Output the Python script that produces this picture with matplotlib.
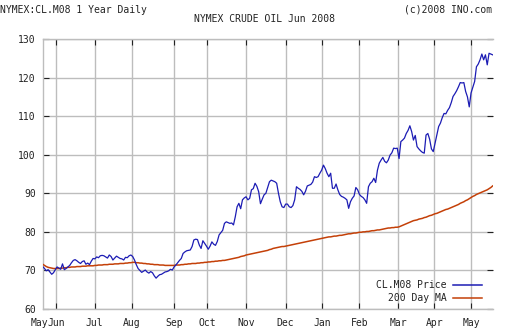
import numpy as np
import matplotlib
matplotlib.use("Agg")
import matplotlib.pyplot as plt
from matplotlib.lines import Line2D

# -----------------------------
# Data (one value per trading day, late May 2007 -> mid May 2008)
# -----------------------------
price = [
    71.0, 70.5, 69.9, 70.2, 69.6, 69.0, 69.4, 70.2, 70.9, 70.6,
    70.3, 71.7, 70.2, 70.5, 70.9, 71.3, 72.0, 72.6, 72.8, 72.5,
    72.1, 71.8, 72.3, 72.5, 71.6, 71.9, 71.5, 72.4, 73.1, 73.0,
    73.5, 73.3, 73.8, 73.9, 73.8, 73.5, 73.2, 74.0, 73.6, 72.7,
    73.2, 73.7, 73.4, 73.1, 73.0, 72.7, 73.4, 73.3, 73.8, 74.0,
    73.6, 72.7, 71.5, 70.5, 70.0, 69.5, 69.8, 70.1, 69.6, 69.3,
    69.7, 69.4, 68.6, 68.0, 68.5, 68.9, 69.0, 69.3, 69.6, 69.7,
    69.9, 70.3, 70.1, 70.9, 71.4, 72.0, 72.6, 73.1, 74.4, 74.8,
    75.1, 75.2, 75.3, 76.2, 77.9, 78.1, 78.0, 76.6, 75.7, 77.7,
    77.0, 76.3, 75.5, 76.3, 77.4, 76.8, 76.5, 77.5, 79.2, 79.8,
    80.4, 82.2, 82.6, 82.4, 82.2, 82.3, 81.8, 83.9, 86.5, 87.4,
    86.0, 88.3, 88.8, 89.1, 88.3, 88.7, 90.9, 91.2, 92.6, 91.8,
    90.4, 87.3, 88.5, 89.6, 90.0, 91.5, 93.0, 93.4, 93.2, 93.0,
    92.6, 90.0, 87.8, 86.5, 86.3, 87.2, 87.2, 86.5, 86.3, 86.8,
    88.3, 91.7, 91.3, 91.0, 90.5, 89.6, 90.5, 91.9, 92.1, 92.3,
    92.9, 94.3, 94.1, 94.3, 95.2, 96.0, 97.3, 96.4, 95.2, 94.3,
    95.2, 91.3, 91.3, 92.4, 90.9, 89.7, 89.2, 89.0, 88.7, 88.3,
    86.1, 87.8, 88.7, 89.3, 91.5, 90.9, 89.7, 89.2, 88.9, 88.3,
    87.4, 91.7, 92.6, 93.0, 93.9, 92.8, 96.0, 97.8, 98.6, 99.3,
    98.3, 97.9, 98.6, 99.9, 100.5, 101.7, 101.6, 101.7, 99.0, 103.4,
    103.8, 104.3, 105.5, 106.3, 107.5, 106.0, 103.8, 105.0, 102.1, 101.5,
    101.0, 100.6, 100.4, 105.1, 105.5, 104.0, 101.5, 100.8, 103.0, 105.1,
    107.3, 108.2, 109.6, 110.7, 110.6, 111.5, 112.2, 113.5, 115.1, 115.8,
    116.6, 117.6, 118.7, 118.6, 118.7, 116.4, 115.0, 112.4, 116.0, 117.5,
    119.0, 122.8, 123.5, 124.6, 126.1, 124.6, 125.9, 123.3, 126.3, 126.1,
    125.9,
]

ma200 = [
    71.6, 71.3, 71.0, 70.8, 70.7, 70.6, 70.5,
    70.5, 70.5, 70.5, 70.6, 70.6, 70.7, 70.7, 70.8, 70.8, 70.9, 70.9,
    70.9, 71.0, 71.0, 71.0, 71.1, 71.1, 71.1, 71.2, 71.2, 71.2, 71.2,
    71.3, 71.3, 71.4, 71.4, 71.4, 71.5, 71.5, 71.5, 71.6, 71.6, 71.6,
    71.7, 71.7, 71.7, 71.8, 71.8, 71.8,
    71.9, 71.9, 72.0, 72.0, 72.1, 72.1,
    72.0, 72.0, 71.9, 71.9, 71.8, 71.8, 71.7, 71.7, 71.6,
    71.6, 71.5, 71.5, 71.5, 71.4, 71.4, 71.4, 71.3, 71.3, 71.3,
    71.3, 71.3, 71.3, 71.4, 71.4, 71.4,
    71.5, 71.5, 71.6, 71.6, 71.7, 71.7, 71.8, 71.8, 71.8, 71.9,
    71.9, 72.0, 72.0, 72.1, 72.1,
    72.2, 72.2, 72.3, 72.3, 72.4, 72.4, 72.5, 72.5, 72.6, 72.6, 72.7,
    72.8, 72.9, 73.0, 73.1, 73.2, 73.3, 73.4, 73.6, 73.7, 73.8, 74.0,
    74.1, 74.2, 74.3, 74.4, 74.5, 74.6, 74.7, 74.8, 74.9, 75.0,
    75.1, 75.2, 75.4, 75.5, 75.7,
    75.8, 75.9, 76.0, 76.1, 76.2, 76.2, 76.3, 76.4,
    76.5, 76.6, 76.7, 76.8, 76.9, 77.0, 77.1, 77.2, 77.3, 77.4, 77.5,
    77.6, 77.7, 77.8, 77.9, 78.0, 78.1, 78.2, 78.3, 78.4, 78.5, 78.6,
    78.7, 78.7, 78.8, 78.9, 78.9, 79.0, 79.1, 79.1, 79.2, 79.3, 79.4,
    79.5, 79.5, 79.6, 79.7, 79.7, 79.8, 79.9,
    79.9, 80.0, 80.0, 80.1, 80.1, 80.2, 80.3, 80.3,
    80.4, 80.5, 80.5, 80.6, 80.7, 80.8, 80.9,
    81.0, 81.0, 81.1, 81.1, 81.2, 81.2, 81.3,
    81.5, 81.7, 81.9, 82.1, 82.3, 82.5, 82.7, 82.9,
    83.0, 83.1, 83.3, 83.4, 83.5, 83.7, 83.8,
    84.0, 84.2, 84.3, 84.5, 84.7, 84.8, 85.0, 85.2,
    85.4, 85.6, 85.8, 85.9, 86.1, 86.3, 86.5,
    86.7, 86.9, 87.1, 87.4, 87.6, 87.8, 88.1, 88.3,
    88.6, 88.9, 89.2, 89.4, 89.7, 89.9, 90.1,
    90.3, 90.5, 90.7, 90.9, 91.2, 91.5, 91.9,
]

# first trading day of each month (index into the daily series)
month_labels = ["May", "Jun", "Jul", "Aug", "Sep", "Oct", "Nov",
                "Dec", "Jan", "Feb", "Mar", "Apr", "May"]
month_starts = [-1.8, 7.6, 28.9, 49.4, 72.8, 91.4, 112.8,
                135, 155.3, 175.9, 197.6, 217.6, 238.1]

y_ticks = [60, 70, 80, 90, 100, 110, 120, 130]

# -----------------------------
# Plot
# -----------------------------
W, H = 512, 336
FONT = "DejaVu Sans Mono"
GRID = "#bdbdbd"
BLUE = "#1c1cb4"
ORANGE = "#c44008"
INK = "#222222"

fig = plt.figure(figsize=(W / 100, H / 100), dpi=100)
fig.patch.set_facecolor("white")

left, right, top, bottom = 42.7, 493.0, 39.0, 309.0
ax = fig.add_axes([left / W, 1 - bottom / H, (right - left) / W, (bottom - top) / H])

ax.plot(np.arange(len(ma200)), ma200, color=ORANGE, lw=1.1, zorder=3)
ax.plot(np.arange(len(price)), price, color=BLUE, lw=0.9, zorder=4)

ax.set_xlim(0, 250.2)
ax.set_ylim(60, 130)

ax.set_xticks(month_starts[1:])
ax.set_xticklabels([])
ax.set_yticks(y_ticks)
ax.set_yticklabels([str(v) for v in y_ticks], fontfamily=FONT, fontsize=7, color=INK)
ax.grid(True, color=GRID, lw=1.0, zorder=0)

ax.tick_params(axis="both", direction="in", length=4, width=0.8, color=INK,
               top=True, right=True, pad=5)
for name, sp in ax.spines.items():
    sp.set_color(GRID)
    sp.set_linewidth(1.0)
ax.spines["right"].set_visible(False)

# month labels (May sits at the left edge, just before the first day)
for lab, pos in zip(month_labels, month_starts):
    ax.text(pos, -0.05, lab, transform=ax.get_xaxis_transform(),
            ha="center", va="center", fontfamily=FONT, fontsize=7, color=INK)

# header texts
fig.text(0 / W, 1 - 10 / H, "NYMEX:CL.M08 1 Year Daily", ha="left", va="center",
         fontfamily=FONT, fontsize=7, color=INK)
fig.text(492 / W, 1 - 10 / H, "(c)2008 INO.com", ha="right", va="center",
         fontfamily=FONT, fontsize=7, color=INK)
fig.text(265 / W, 1 - 18.5 / H, "NYMEX CRUDE OIL Jun 2008", ha="center", va="center",
         fontfamily=FONT, fontsize=7, color=INK)

# legend drawn by hand (text right aligned, line to the right)
legend_rows = [("CL.M08 Price", BLUE, 285), ("200 Day MA", ORANGE, 298)]
for label, col, ypx in legend_rows:
    fig.text(447 / W, 1 - ypx / H, label, ha="right", va="center",
             fontfamily=FONT, fontsize=7, color=INK)
    fig.add_artist(Line2D([453 / W, 482 / W], [1 - ypx / H, 1 - ypx / H],
                          color=col, lw=1.1, transform=fig.transFigure))

fig.savefig("out.png", dpi=100, facecolor="white")
